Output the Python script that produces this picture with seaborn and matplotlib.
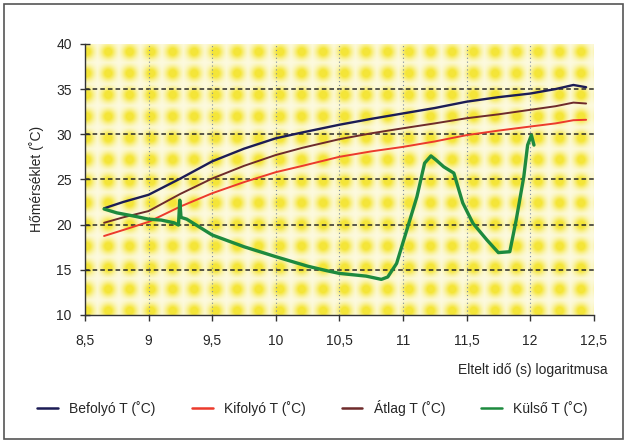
import numpy as np
import matplotlib
matplotlib.use('Agg')
import matplotlib.pyplot as plt
from matplotlib.ticker import FuncFormatter, MultipleLocator
from matplotlib.patches import Rectangle
import seaborn as sns

# adatok
x_main = [8.65, 8.8, 9.0, 9.25, 9.5, 9.75, 10.0, 10.21, 10.5, 10.75,
          11.0, 11.25, 11.5, 11.75, 12.0, 12.2, 12.34, 12.44]
befolyo = [21.8, 22.5, 23.3, 25.1, 27.0, 28.4, 29.55, 30.2, 31.05, 31.7,
           32.3, 32.9, 33.6, 34.1, 34.5, 35.0, 35.45, 35.2]
kifolyo = [18.74, 19.4, 20.3, 22.0, 23.47, 24.7, 25.8, 26.5, 27.5, 28.1,
           28.6, 29.2, 29.9, 30.4, 30.85, 31.2, 31.55, 31.6]
atlag = [20.2, 20.8, 21.5, 23.4, 25.1, 26.5, 27.7, 28.5, 29.45, 30.1,
         30.66, 31.2, 31.77, 32.2, 32.7, 33.1, 33.5, 33.4]

x_kulso = [8.65, 8.75, 8.9, 9.0, 9.1, 9.2, 9.235, 9.245, 9.255, 9.3, 9.5, 9.75,
           10.0, 10.25, 10.4, 10.5, 10.71, 10.83, 10.88, 10.95, 11.03, 11.11,
           11.17, 11.22, 11.26, 11.32, 11.40, 11.47, 11.55, 11.66, 11.75, 11.84,
           11.89, 11.95, 11.98, 12.01, 12.03]
kulso = [21.73, 21.3, 20.9, 20.6, 20.5, 20.2, 19.95, 22.7, 20.8, 20.6, 18.85, 17.55,
         16.45, 15.4, 14.9, 14.6, 14.3, 13.94, 14.2, 15.7, 19.4, 23.1,
         26.8, 27.6, 27.15, 26.4, 25.7, 22.4, 20.15, 18.3, 16.9, 17.0,
         20.5, 25.3, 28.8, 29.9, 28.8]

labels = ['Befolyó T (˚C)', 'Kifolyó T (˚C)', 'Átlag T (˚C)', 'Külső T (˚C)']

sns.set_theme(style='white')
plt.rcParams['font.family'] = ['Liberation Sans', 'DejaVu Sans']

fig = plt.figure(figsize=(6.25, 4.43), dpi=100)
ax = fig.add_axes([0.136, 0.289, 0.814, 0.612])

# pöttyös sárga háttér
h, w = 271, 509
yy, xx = np.mgrid[0:h, 0:w]
dx = ((xx - 12) % 21.5) - 10.75
dy = ((yy - 19) % 21.5) - 10.75
d = np.exp(-(dx ** 2 + dy ** 2) / (2 * 5.0 ** 2))
d = np.clip(d * 1.25, 0, 1)
bg = np.array([0.99, 0.98, 0.88])
dot = np.array([0.96, 0.90, 0.22])
img = bg[None, None, :] * (1 - d[..., None]) + dot[None, None, :] * d[..., None]
ax.imshow(img, extent=[0, 1, 0, 1], transform=ax.transAxes, aspect='auto', zorder=0)

# rácsvonalak
for v in [15, 20, 25, 30, 35]:
    ax.axhline(v, color='#2a2a2a', lw=1.1, ls=(0, (3, 2)), zorder=1)
for v in [9, 9.5, 10, 10.5, 11, 11.5, 12]:
    ax.axvline(v, color='#7a8aa0', lw=0.8, ls=(0, (1, 2.5)), zorder=1)

sns.lineplot(x=x_main, y=befolyo, ax=ax, color='#1c1c55', lw=1.7, label=labels[0], sort=False, zorder=3)
sns.lineplot(x=x_main, y=kifolyo, ax=ax, color='#ec3a2c', lw=1.4, label=labels[1], sort=False, zorder=3)
sns.lineplot(x=x_main, y=atlag, ax=ax, color='#6e2b2b', lw=1.4, label=labels[2], sort=False, zorder=3)
sns.lineplot(x=x_kulso, y=kulso, ax=ax, color='#1d8a3e', lw=2.4, label=labels[3], sort=False, zorder=4)

ax.set_xlim(8.5, 12.5)
ax.set_ylim(10, 40)
ax.xaxis.set_major_locator(MultipleLocator(0.5))
ax.yaxis.set_major_locator(MultipleLocator(5))
ax.xaxis.set_major_formatter(FuncFormatter(lambda v, p: f'{v:g}'.replace('.', ',')))
for s in ['top', 'right']:
    ax.spines[s].set_visible(False)
for s in ['left', 'bottom']:
    ax.spines[s].set_color('#333333')
    ax.spines[s].set_linewidth(1.0)
ax.tick_params(axis='y', direction='inout', length=7, width=1, color='#333333',
               labelsize=10, pad=6, left=True)
ax.tick_params(axis='x', direction='out', length=4, width=1, color='#333333',
               labelsize=10, pad=10, bottom=True)
ax.set_ylabel('Hőmérséklet (˚C)', fontsize=10, labelpad=9)
ax.set_xlabel('')

fig.text(0.972, 0.165, 'Eltelt idő (s) logaritmusa', ha='right', va='center', fontsize=10)

handles, labs = ax.get_legend_handles_labels()
ax.get_legend().remove()
leg = fig.legend(handles, labs, loc='center', bbox_to_anchor=(0.5, 0.079), ncol=4,
                 frameon=False, fontsize=10, handlelength=1.5, columnspacing=2.6,
                 handletextpad=0.8)
for ln in leg.get_lines():
    ln.set_linewidth(1.8)

fig.patches.append(Rectangle((0.007, 0.008), 0.99, 0.983, transform=fig.transFigure,
                             fill=False, ec='#555555', lw=1.2))

fig.savefig('out.png', dpi=100)
